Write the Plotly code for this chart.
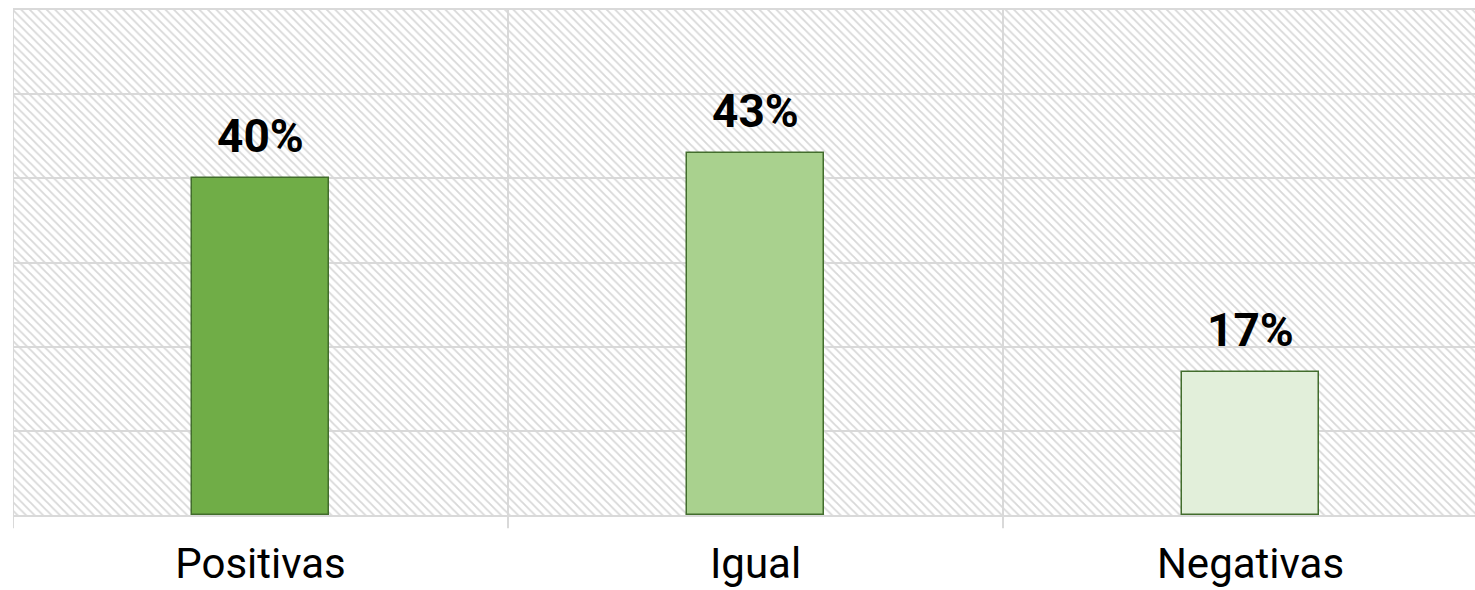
import plotly.graph_objects as go

categories = ["Positivas", "Igual", "Negativas"]
values = [40, 43, 17]
bar_colors = ["#70AD47", "#A9D18E", "#E2EFDA"]
y_ticks = [0, 10, 20, 30, 40, 50, 60]

Y_MAX = 60
GRID = "#d9d9d9"
x_pos = list(range(len(categories)))

fig = go.Figure()

# hatched plot background
fig.add_trace(go.Bar(
    x=[(len(categories) - 1) / 2], y=[Y_MAX], width=[len(categories)],
    marker=dict(color="rgba(0,0,0,0)", line=dict(width=0),
                pattern=dict(shape="\\", size=6, solidity=0.3,
                             fgcolor="#d8d8d8", bgcolor="rgba(0,0,0,0)",
                             fillmode="replace")),
    hoverinfo="skip", showlegend=False,
))

fig.add_trace(go.Bar(
    x=x_pos, y=values, width=0.275,
    marker=dict(color=bar_colors, line=dict(color="#426d2c", width=1.5)),
    showlegend=False,
))

for i, v in enumerate(values):
    fig.add_annotation(x=x_pos[i], y=v, text=f"{v}%", showarrow=False,
                       yanchor="bottom", yshift=13,
                       font=dict(family="Roboto", size=46, color="#000000", weight="bold"))

# category separators (extend below the axis like tick marks)
for b in [-0.5 + k for k in range(len(categories))]:
    fig.add_shape(type="line", xref="x", yref="paper", x0=b, x1=b, y0=-0.026, y1=1,
                  line=dict(color=GRID, width=2), layer="below")

fig.update_layout(
    width=1475, height=590,
    margin=dict(l=13, r=0, t=10, b=75),
    paper_bgcolor="white", plot_bgcolor="white",
    barmode="overlay", bargap=0,
    font=dict(family="Roboto"),
)
fig.update_xaxes(
    range=[-0.5, len(categories) - 0.5 - 23 / 495],
    tickvals=x_pos, ticktext=categories, showgrid=False, zeroline=False,
    showline=True, mirror=True, linecolor=GRID, linewidth=2,
    ticks="", tickfont=dict(family="Roboto", size=42, color="#000000"),
    ticklabelstandoff=11, automargin=False,
)
fig.update_yaxes(
    range=[0, Y_MAX], tickvals=y_ticks, showticklabels=False,
    showgrid=True, gridcolor=GRID, gridwidth=2, zeroline=False,
    showline=False, automargin=False,
)

fig.write_html(
    "out.html",
    config={"displayModeBar": False},
    post_script="document.body.style.margin='0';document.body.style.overflow='hidden';",
)
